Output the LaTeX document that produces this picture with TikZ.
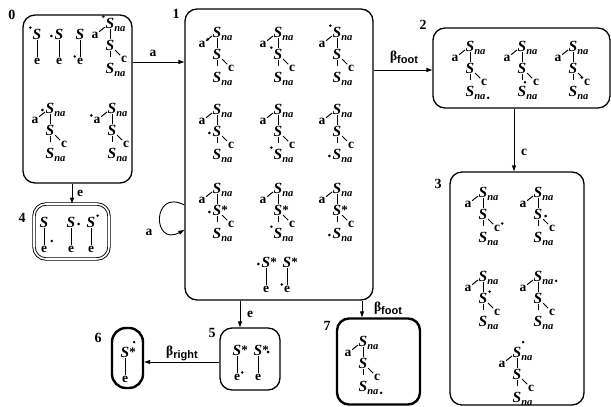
\documentclass[tikz,border=0pt]{standalone}
\usepackage{fontspec}
\setmainfont{Liberation Serif}
\setsansfont{Liberation Sans}
\usetikzlibrary{arrows.meta}
\newcommand{\Sx}{\textbf{\textit{S}}}
\newcommand{\Na}{\rlap{\raisebox{-3.5pt}{\fontsize{10.5}{10.5}\selectfont\textbf{\textit{na}}}}}
\newcommand{\St}{\rlap{\raisebox{0.5pt}{\fontsize{13}{13}\selectfont\textbf{*}}}}
\newcommand{\bsub}[1]{\textbf{β}\raisebox{-3pt}{\fontsize{11}{11}\selectfont\sffamily\bfseries #1}}
\tikzset{
 box/.style={draw, rounded corners=12pt, line width=1.3pt, inner sep=0pt},
 tn/.style={inner sep=0.6pt, text height=10pt, text depth=0pt, font=\fontsize{15.5}{15.5}\selectfont},
 tl/.style={inner sep=0.6pt, text height=6.5pt, text depth=0pt, font=\bfseries\fontsize{13.5}{13.5}\selectfont},
 tr/.style={line width=1pt},
 arr/.style={line width=0.9pt, -{Triangle[length=6pt,width=4pt]}},
 elab/.style={font=\bfseries\fontsize{13.5}{13.5}\selectfont, inner sep=0pt},
 num/.style={font=\bfseries\fontsize{14}{14}\selectfont, inner sep=0pt},
}
\newcommand{\ftreegen}[4]{%
 \node[tn] (#1r) at (#2,#3) {\Sx\Na};
 \node[tl] (#1a) at ([shift={(-15,12)}]#2,#3) {a};
 \node[tn] (#1m) at ([shift={(0,22)}]#2,#3) {#4};
 \node[tl] (#1c) at ([shift={(14,36)}]#2,#3) {c};
 \node[tn] (#1f) at ([shift={(0,45)}]#2,#3) {\Sx\Na};
 \draw[tr] (#1r) -- (#1a);
 \draw[tr] (#1r) -- (#1m);
 \draw[tr] (#1m) -- (#1c);
 \draw[tr,shorten >=5pt] (#1m) -- (#1f);
}
\newcommand{\ftree}[3]{\ftreegen{#1}{#2}{#3}{\Sx}}
\newcommand{\ftrees}[3]{\ftreegen{#1}{#2}{#3}{\Sx\St}}
\newcommand{\stree}[4]{%
 \node[tn] (#1s) at (#2,#3) {#4};
 \node[tl] (#1e) at ([shift={(0,27)}]#2,#3) {e};
 \draw[tr] (#1s) -- (#1e);
}
\newcommand{\dotat}[1]{\fill (#1) circle (1.4pt);}
\newcommand{\dla}[1]{\dotat{[shift={(-1.5,-0.5)}]#1.north west}}
\newcommand{\dlb}[1]{\dotat{[shift={(-2.5,2)}]#1.west}}
\newcommand{\drb}[1]{\dotat{[shift={(2.5,2)}]#1.east}}
\newcommand{\dra}[1]{\dotat{[shift={(1.5,-0.5)}]#1.north east}}
\begin{document}
\begin{tikzpicture}[x=1pt,y=-1pt]
\useasboundingbox (0,0) rectangle (611,407);
% state boxes
\node[box, minimum width=109pt, minimum height=168pt] (s0) at (77.5,99) {};
\node[box, minimum width=188pt, minimum height=291pt] (s1) at (279,154.5) {};
\node[box, minimum width=177pt, minimum height=80pt] (s2) at (521.5,68) {};
\node[box, minimum width=134pt, minimum height=233pt] (s3) at (517,288.5) {};
\node[box, double, line width=0.9pt, double distance=1.6pt, minimum width=75pt, minimum height=55pt] (s4) at (71.5,231.5) {};
\node[box, minimum width=60pt, minimum height=62pt] (s5) at (250,359) {};
\node[box, line width=2.4pt, rounded corners=14pt, minimum width=31pt, minimum height=60pt] (s6) at (127.5,358) {};
\node[box, line width=2.4pt, minimum width=83pt, minimum height=86pt] (s7) at (378.5,361.5) {};
% state numbers
\node[num] (n0) at (12,15) {0};
\node[num] (n1) at (176,14) {1};
\node[num] (n2) at (423,25) {2};
\node[num] (n3) at (438,184) {3};
\node[num] (n4) at (22,218) {4};
\node[num] (n5) at (212,333) {5};
\node[num] (n6) at (98,338) {6};
\node[num] (n7) at (327,326) {7};
% state 0
\stree{A0}{37}{34}{\Sx} \dla{A0s}
\stree{B0}{59}{34}{\Sx} \dlb{B0s}
\stree{C0}{80}{34}{\Sx} \dla{C0e}
\ftree{D0}{110}{23} \dla{D0r}
\ftree{E0}{50}{108} \dlb{E0r}
\ftree{F0}{112}{108} \dla{F0a}
% state 1
\ftree{G1}{217}{32} \dra{G1a}
\ftree{H1}{278}{32} \dla{H1m}
\ftree{I1}{337}{32} \dla{I1r}
\ftree{J1}{217}{109} \dlb{J1m}
\ftree{K1}{278}{109} \dla{K1f}
\ftree{L1}{337}{109} \dlb{L1f}
\ftrees{M1}{217}{188} \dlb{M1m}
\ftrees{N1}{278}{188} \dla{N1f}
\ftrees{O1}{337}{188} \dlb{O1f}
\stree{P1}{266}{262}{\Sx\St} \dlb{P1s}
\stree{Q1}{287}{262}{\Sx\St} \dla{Q1e}
% state 2
\ftree{R2}{470}{46} \dotat{[shift={(13,1)}]R2f.south east}
\ftree{T2}{522}{46} \dotat{[shift={(3,-3)}]T2f.north}
\ftree{U2}{573}{46} \dla{U2c}
% state 3
\ftree{V1}{483}{192} \dra{V1c}
\ftree{V2}{538}{192} \drb{V2m}
\ftree{V3}{483}{276} \dra{V3m}
\ftree{V4}{538}{276} \dotat{[shift={(13,-1)}]V4r.south east}
\ftree{V5}{517}{352} \dotat{[shift={(1,-4)}]V5r.north east}
% state 4
\stree{W1}{44}{222}{\Sx} \dotat{[shift={(4,-4)}]W1e.north east}
\stree{W2}{71}{222}{\Sx} \drb{W2s}
\stree{W3}{91}{222}{\Sx} \dra{W3s}
% state 5
\stree{X1}{237}{350}{\Sx\St} \dra{X1e}
\stree{X2}{258}{350}{\Sx\St} \dotat{[shift={(5,2)}]X2s.east}
% state 6
\stree{Y6}{125}{352}{\Sx\St} \dotat{[shift={(4,-4)}]Y6s.north east}
% state 7
\ftree{Z7}{363}{341} \dotat{[shift={(13,1)}]Z7f.south east}
% transitions
\coordinate (y01) at (0,62);
\draw[arr] (s0.east |- y01) -- (s1.west |- y01);
\node[elab] (l01) at (153,53) {a};
\coordinate (y12) at (0,70);
\draw[arr] (s1.east |- y12) -- (s2.west |- y12);
\node[elab] (l12) at (404,57) {\bsub{foot}};
\coordinate (x23) at (514,0);
\draw[arr] (s2.south -| x23) -- (s3.north -| x23);
\node[elab] (l23) at (524,152) {c};
\coordinate (x04) at (72,0);
\draw[arr] (s0.south -| x04) -- (s4.north -| x04);
\node[elab] (l04) at (80,193) {e};
\coordinate (x15) at (240,0);
\draw[arr] (s1.south -| x15) -- (s5.north -| x15);
\node[elab] (l15) at (250,314) {e};
\coordinate (x17) at (362,0);
\draw[arr] (s1.south -| x17) -- (s7.north -| x17);
\node[elab] (l17) at (388,308) {\bsub{foot}};
\coordinate (y56) at (0,362);
\draw[arr] (s5.west |- y56) -- (s6.east |- y56);
\node[elab] (l56) at (182,353) {\bsub{right}};
% self loop on state 1
\coordinate (lp1) at (0,205);
\coordinate (lp2) at (0,230);
\draw[arr] (s1.west |- lp1) .. controls (152,188) and (152,247) .. (s1.west |- lp2);
\node[elab] (l11) at (149,232) {a};
\end{tikzpicture}
\end{document}
